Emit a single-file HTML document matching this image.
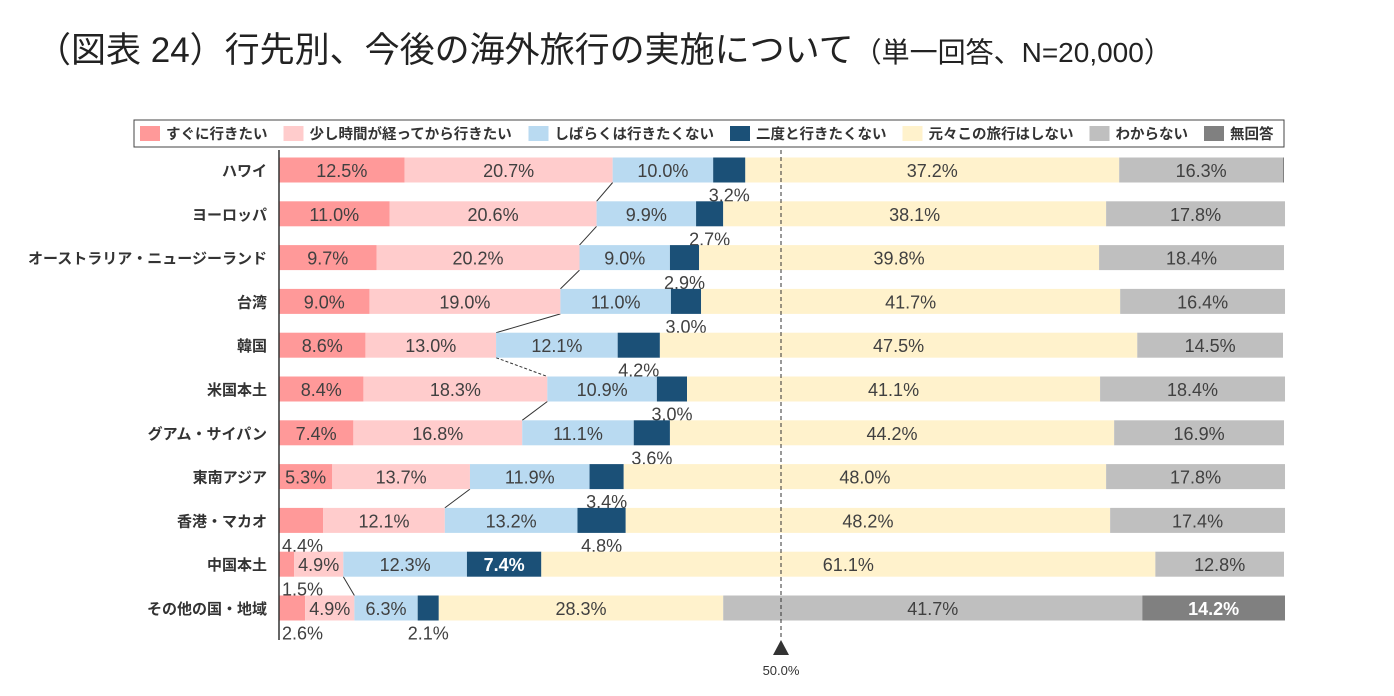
<!DOCTYPE html>
<html><head><meta charset="utf-8">
<style>
body{margin:0;background:#fff;width:1394px;height:691px;overflow:hidden;font-family:"Liberation Sans","Noto Sans CJK JP",sans-serif;}
</style></head><body>
<svg id="c" width="1394" height="691" xmlns="http://www.w3.org/2000/svg" font-family="Liberation Sans, Noto Sans CJK JP, sans-serif">
<text x="36" y="62" font-size="35" fill="#222">（図表 24）行先別、今後の海外旅行の実施について<tspan font-size="28">（単一回答、N=20,000）</tspan></text>
<rect x="134" y="120" width="1150" height="27" fill="#fff" stroke="#444" stroke-width="1"/>
<g id="legend"></g>
<g id="bars"></g>
<line x1="279" y1="150" x2="279" y2="640" stroke="#333" stroke-width="1.5"/>
<line x1="781" y1="150" x2="781" y2="638" stroke="#333" stroke-width="1" stroke-dasharray="4,3"/>
<polygon points="781,640 773,655 789,655" fill="#333"/>
<text x="781" y="675" font-size="13" text-anchor="middle" fill="#333">50.0%</text>
</svg>
<script>
const categories=["ハワイ","ヨーロッパ","オーストラリア・ニュージーランド","台湾","韓国","米国本土","グアム・サイパン","東南アジア","香港・マカオ","中国本土","その他の国・地域"];
const seriesNames=["すぐに行きたい","少し時間が経ってから行きたい","しばらくは行きたくない","二度と行きたくない","元々この旅行はしない","わからない","無回答"];
const s1=[12.5,11.0,9.7,9.0,8.6,8.4,7.4,5.3,4.4,1.5,2.6];
const s2=[20.7,20.6,20.2,19.0,13.0,18.3,16.8,13.7,12.1,4.9,4.9];
const s3=[10.0,9.9,9.0,11.0,12.1,10.9,11.1,11.9,13.2,12.3,6.3];
const s4=[3.2,2.7,2.9,3.0,4.2,3.0,3.6,3.4,4.8,7.4,2.1];
const s5=[37.2,38.1,39.8,41.7,47.5,41.1,44.2,48.0,48.2,61.1,28.3];
const s6=[16.3,17.8,18.4,16.4,14.5,18.4,16.9,17.8,17.4,12.8,41.7];
const s7=[0.1,0,0,0,0,0,0,0,0,0,14.2];
const series=[s1,s2,s3,s4,s5,s6,s7];
const colors=["#ff9999","#ffcccc","#b9daf1","#1b5077","#fff2cc","#bfbfbf","#808080"];
const X0=279,W=1005,Y0=170,STEP=43.8,BH=25;
const xs=v=>X0+v*W/100, yc=i=>Y0+i*STEP;
const NS="http://www.w3.org/2000/svg";
function mk(t,a,p){const e=document.createElementNS(NS,t);for(const k in a)e.setAttribute(k,a[k]);p.appendChild(e);return e;}
const lg=document.getElementById('legend');
let lx=140;
seriesNames.forEach((n,k)=>{
  const g=mk('g',{},lg);
  
  
  mk('rect',{x:lx,y:126,width:20,height:15,fill:colors[k]},g);
  const t=mk('text',{x:lx+26,y:139,'font-size':14.5,'font-weight':'bold',fill:'#333'},g);t.textContent=n;
  lx+=26+n.length*14.5+16;
});
const bg=document.getElementById('bars');
for(let i=0;i<categories.length-1;i++){
  if(i==6||i==8)continue;
  const a=s1[i]+s2[i],b=s1[i+1]+s2[i+1];
  const l=mk('line',{x1:xs(a),y1:yc(i)+BH/2,x2:xs(b),y2:yc(i+1)-BH/2,stroke:'#333','stroke-width':1},bg);
  if(i==4)l.setAttribute('stroke-dasharray','3,2');
  
  
}
categories.forEach((c,i)=>{
  const y=yc(i);
  const t=mk('text',{x:267,y:y+6,'font-size':15,'font-weight':'bold','text-anchor':'end',fill:'#333'},bg);
  t.textContent=c;
  
  
  let cum=0;
  series.forEach((s,k)=>{
    const v=s[i];if(v<=0){return;}
    const x=xs(cum),w=xs(cum+v)-x;
    const r=mk('rect',{x:x,y:y-BH/2,width:w,height:BH,fill:colors[k]},bg);
    
    
    if(v>=0.5){
      let lx=x+w/2,ly=y+7,anchor='middle',col=(k==3||k==6)?'#fff':'#404040',fw=(k==3||k==6)?'bold':'normal';
      if(k==3&&v<5){ly=y+BH/2+19;col='#404040';fw='normal';}
      if(k==0&&v<5){ly=y+BH/2+19;lx=x+3;anchor='start';
        if(i==7){ly=y+7;lx=x+w/2;anchor='middle';}}
      const lt=mk('text',{x:lx,y:ly,'font-size':18,'text-anchor':anchor,fill:col,'font-weight':fw},bg);
      lt.textContent=v.toFixed(1)+'%';
      
      
    }
    cum+=v;
  });
});
</script>
</body></html>
